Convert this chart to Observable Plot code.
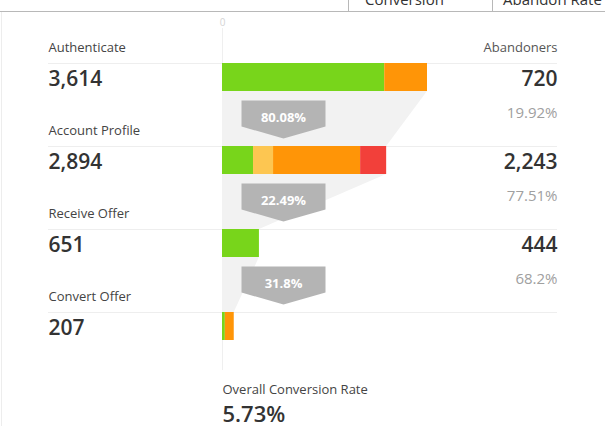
<!DOCTYPE html>
<html><head><meta charset="utf-8">
<script src="https://cdn.jsdelivr.net/npm/d3@7"></script>
<script src="https://cdn.jsdelivr.net/npm/@observablehq/plot@0.6"></script>
<style>
html,body{margin:0;padding:0;background:#fff;}
#wrap{position:relative;width:605px;height:426px;overflow:hidden;font-family:"Open Sans",sans-serif;}
#chrome{position:absolute;left:0;top:0;pointer-events:none;}
</style></head><body>
<div id="wrap"><div id="chart"></div>
<svg id="chrome" width="605" height="426" font-family="Open Sans, sans-serif">
 <line x1="0" x2="605" y1="11.5" y2="11.5" stroke="#b8b8b8"/>
 <line x1="348.5" x2="348.5" y1="0" y2="11" stroke="#b8b8b8"/>
 <line x1="492.5" x2="492.5" y1="0" y2="11" stroke="#b8b8b8"/>
 <line x1="1.5" x2="1.5" y1="12" y2="426" stroke="#ededed"/>
 <text x="365" y="5" font-size="15" fill="#333">Conversion</text>
 <text x="503" y="5" font-size="15" fill="#333">Abandon Rate</text>
</svg>
</div>
<script>
const stages = ["Authenticate", "Account Profile", "Receive Offer", "Convert Offer"];
const stageCounts = [3614, 2894, 651, 207];
const abandonHeader = "Abandoners";
const abandoners = [720, 2243, 444];
const abandonRates = ["19.92%", "77.51%", "68.2%"];
const stepRates = ["80.08%", "22.49%", "31.8%"];
const overallLabel = "Overall Conversion Rate";
const overallRate = "5.73%";
const segmentStages = [0, 0, 1, 1, 1, 1, 2, 3, 3];
const segmentKinds = ["s1", "s3", "s1", "s2", "s3", "s4", "s1", "s1", "s3"];
const segmentValues = [2860, 754, 547, 353, 1535, 459, 651, 50, 157];
const xTicks = [0];

// styles / layout
const kindColors = {s1: "#78d51b", s2: "#fdc651", s3: "#ff9507", s4: "#f2403a"};
const barFrac = 28 / 83;
const fmt = d3.format(",");

// stacked segments
const cum = stages.map(() => 0);
const segs = segmentValues.map((v, i) => {
  const s = segmentStages[i];
  const x1 = cum[s]; cum[s] += v;
  return {stage: s, kind: segmentKinds[i], x1, x2: cum[s]};
});
// funnel trapezoids between consecutive stages
const trap = [];
for (let i = 0; i < stages.length - 1; i++) {
  trap.push({k: i, y: i + barFrac, x: stageCounts[i]});
  trap.push({k: i, y: i + 1, x: stageCounts[i + 1]});
}
const rows = stages.map((s, i) => ({i, name: s, count: stageCounts[i]}));
const abRows = abandoners.map((a, i) => ({i, a, r: abandonRates[i]}));
const steps = stepRates.map((r, i) => ({i: i + 1, r}));

const callout = {draw(ctx) {
  ctx.moveTo(-42, -46); ctx.lineTo(42, -46); ctx.lineTo(42, -20);
  ctx.lineTo(0, -8); ctx.lineTo(-42, -20); ctx.closePath();
}};

const chart = Plot.plot({
  width: 605, height: 426,
  marginLeft: 48, marginRight: 48, marginTop: 28, marginBottom: 56,
  style: {fontFamily: "Open Sans, sans-serif", background: "transparent"},
  x: {domain: [0, d3.max(stageCounts)], range: [222, 427]},
  y: {domain: [0, stages.length], range: [63, 395], axis: null},
  color: {domain: Object.keys(kindColors), range: Object.values(kindColors)},
  marks: [
    Plot.ruleX(xTicks, {stroke: "#efefef"}),
    Plot.ruleY(rows, {y: "i", stroke: "#eeeeee"}),
    Plot.areaX(trap, {y: "y", x1: 0, x2: "x", z: "k", fill: "#f2f2f2"}),
    Plot.rectX(segs, {x1: "x1", x2: "x2", y1: "stage", y2: d => d.stage + barFrac, fill: "kind"}),
    Plot.dot(steps, {x: () => 0, y: "i", dx: 61, symbol: callout, fill: "#b4b4b4", stroke: null}),
    Plot.text(steps, {x: () => 0, y: "i", dx: 61, dy: -25, text: "r", fill: "white", fontSize: 13, fontWeight: 700, lineAnchor: "bottom"}),
    Plot.text(rows, {y: "i", frameAnchor: "left", textAnchor: "start", dy: -12, lineAnchor: "bottom", text: "name", fontSize: 13, fill: "#444"}),
    Plot.text(rows, {y: "i", frameAnchor: "left", textAnchor: "start", dy: 22, lineAnchor: "bottom", text: d => fmt(d.count), fontSize: 21, fontWeight: 600, fill: "#333"}),
    Plot.text([abandonHeader], {y: () => 0, frameAnchor: "right", textAnchor: "end", dy: -12, lineAnchor: "bottom", text: d => d, fontSize: 13, fill: "#555"}),
    Plot.text(abRows, {y: "i", frameAnchor: "right", textAnchor: "end", dy: 22, lineAnchor: "bottom", text: d => fmt(d.a), fontSize: 21, fontWeight: 600, fill: "#333"}),
    Plot.text(abRows, {y: "i", frameAnchor: "right", textAnchor: "end", dy: 54, lineAnchor: "bottom", text: "r", fontSize: 15, fill: "#a0a0a0"}),
    Plot.text([overallLabel], {x: () => 0, y: () => stages.length, textAnchor: "start", dy: -2, lineAnchor: "bottom", text: d => d, fontSize: 13, fill: "#444"}),
    Plot.text([overallRate], {x: () => 0, y: () => stages.length, textAnchor: "start", dy: 26, lineAnchor: "bottom", text: d => d, fontSize: 22, fontWeight: 600, fill: "#333"}),
    Plot.axisX(xTicks, {anchor: "top", tickSize: 0, tickPadding: 3, fontSize: 10, color: "#d4d4d4"})
  ]
});
document.getElementById("chart").appendChild(chart);
</script>
</body></html>
